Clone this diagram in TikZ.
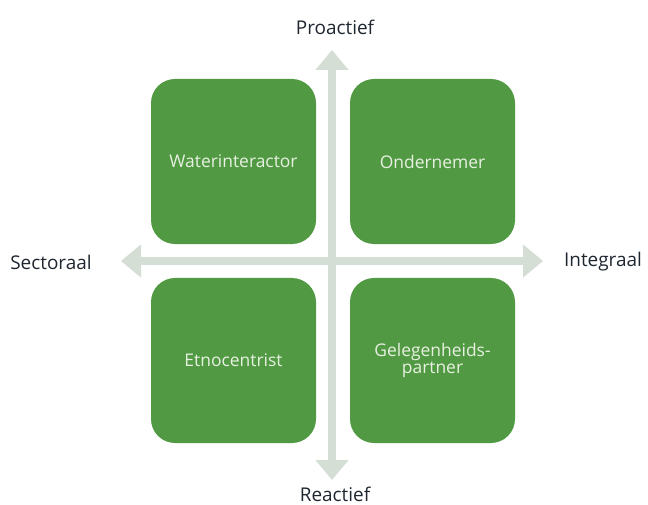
\documentclass[tikz,border=0pt]{standalone}
\usepackage{fontspec}
\setmainfont{Open Sans}
\usetikzlibrary{arrows.meta}

\definecolor{boxgreen}{HTML}{519A43}
\definecolor{boxtext}{HTML}{E8F0E2}
\definecolor{axisgrey}{HTML}{D5DED5}
\definecolor{labeltext}{HTML}{1E2630}

\tikzset{
  quadrant/.style={fill=boxgreen, rounded corners=24bp, minimum width=165bp, minimum height=165bp,
    inner sep=0pt, text=boxtext, align=center, font=\fontsize{17.5}{17.5}\selectfont},
  axislabel/.style={text=labeltext, font=\fontsize{19}{21}\selectfont, inner sep=0pt},
  axis/.style={axisgrey, line width=8bp, -{Triangle[width=32bp, length=20bp]}}
}

\begin{document}
\begin{tikzpicture}[x=1bp, y=-1bp]

        \useasboundingbox (0,0) rectangle (648,505);

        \coordinate (top) at (332,50);
        \coordinate (bottom) at (332,480);
        \coordinate (left) at (121,261);
        \coordinate (right) at (543,261);
        \coordinate (center) at (332,261);

        \draw[axis] (center)--(top);
        \draw[axis] (center)--(bottom);
        \draw[axis] (center)--(left);
        \draw[axis] (center)--(right);

        \node[quadrant] (waterinteractor) at (233.5,161.5) {Waterinteractor};
        \node[quadrant] (ondernemer) at (432.5,161.5) {Ondernemer};
        \node[quadrant] (etnocentrist) at (233.5,360.5) {Etnocentrist};
        \node[quadrant] (gelegenheidspartner) at (432.5,360.5) {Gelegenheids-\\partner};

        \node[axislabel] (proactief) at (335,27) {Proactief};
        \node[axislabel] (reactief) at (335,494) {Reactief};
        \node[axislabel] (sectoraal) at (51,262) {Sectoraal};
        \node[axislabel] (integraal) at (603,262) {Integraal};

\end{tikzpicture}
\end{document}
